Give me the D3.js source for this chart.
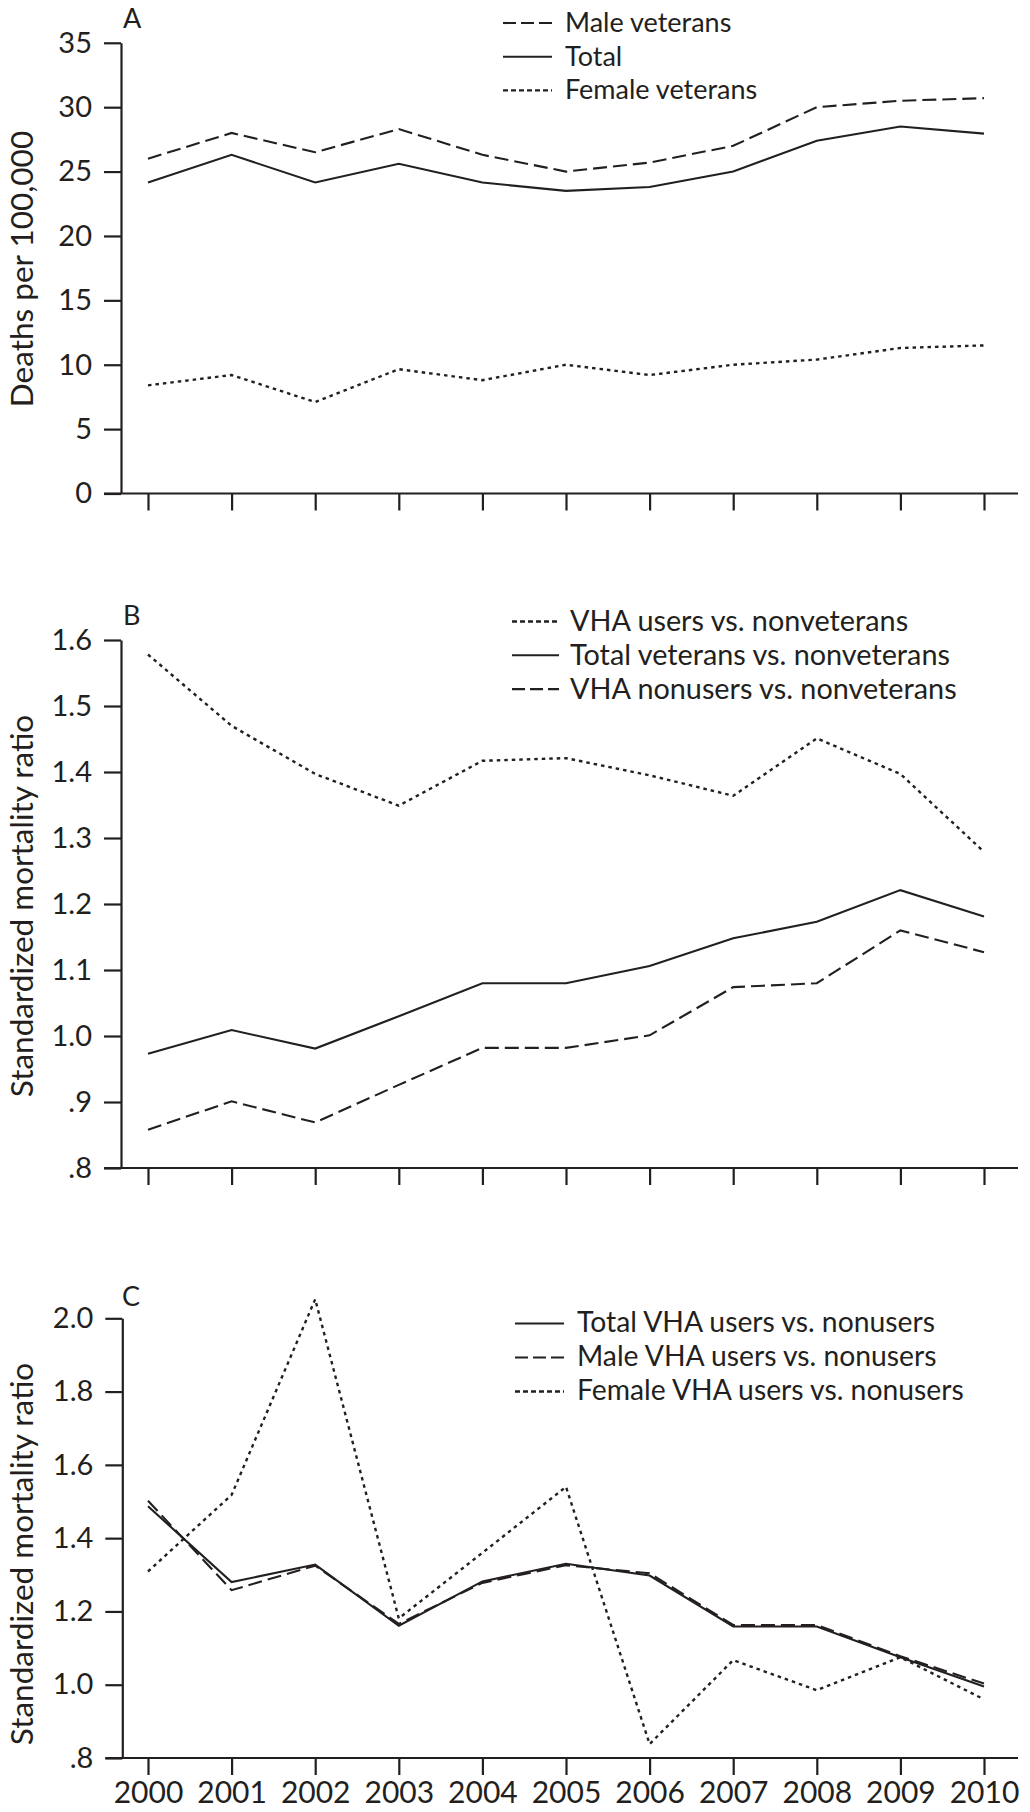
<!DOCTYPE html>
<html>
<head>
<meta charset="utf-8">
<script src="https://cdn.jsdelivr.net/npm/d3@7"></script>
<style>
  html, body { margin: 0; padding: 0; background: #fff; }
  svg { display: block; }
  text { font-family: Lato, "Open Sans", sans-serif; fill: #231f20; }
</style>
</head>
<body>
<svg id="chart" width="1030" height="1812"></svg>
<script>
// ---------- data ----------
const years = [2000, 2001, 2002, 2003, 2004, 2005, 2006, 2007, 2008, 2009, 2010];

// Panel A: deaths per 100,000
const maleVeterans   = [26.0, 28.0, 26.5, 28.3, 26.3, 25.0, 25.7, 27.0, 30.0, 30.5, 30.7];
const totalVeterans  = [24.15, 26.3, 24.15, 25.6, 24.15, 23.5, 23.8, 25.0, 27.4, 28.5, 27.95];
const femaleVeterans = [8.4, 9.2, 7.1, 9.65, 8.8, 10.0, 9.2, 10.0, 10.4, 11.3, 11.5];
const aTicks = [0, 5, 10, 15, 20, 25, 30, 35];
const aTickLabels = ["0", "5", "10", "15", "20", "25", "30", "35"];

// Panel B: standardized mortality ratio vs nonveterans
const vhaUsersVsNonvet    = [1.578, 1.470, 1.397, 1.349, 1.417, 1.421, 1.395, 1.364, 1.451, 1.397, 1.279];
const totalVetVsNonvet    = [0.973, 1.009, 0.981, 1.030, 1.080, 1.080, 1.106, 1.148, 1.173, 1.221, 1.181];
const vhaNonusersVsNonvet = [0.858, 0.901, 0.869, 0.926, 0.982, 0.982, 1.001, 1.074, 1.080, 1.160, 1.127];
const bTicks = [0.8, 0.9, 1.0, 1.1, 1.2, 1.3, 1.4, 1.5, 1.6];
const bTickLabels = [".8", ".9", "1.0", "1.1", "1.2", "1.3", "1.4", "1.5", "1.6"];

// Panel C: standardized mortality ratio, VHA users vs nonusers
const totalUsersVsNonusers  = [1.487, 1.280, 1.328, 1.161, 1.282, 1.330, 1.298, 1.159, 1.159, 1.075, 0.995];
const maleUsersVsNonusers   = [1.502, 1.258, 1.325, 1.166, 1.278, 1.326, 1.304, 1.163, 1.163, 1.078, 1.003];
const femaleUsersVsNonusers = [1.309, 1.518, 2.052, 1.181, 1.360, 1.540, 0.838, 1.067, 0.985, 1.075, 0.960];
const cTicks = [0.8, 1.0, 1.2, 1.4, 1.6, 1.8, 2.0];
const cTickLabels = [".8", "1.0", "1.2", "1.4", "1.6", "1.8", "2.0"];
const yearLabels = ["2000","2001","2002","2003","2004","2005","2006","2007","2008","2009","2010"];

// ---------- styles ----------
const INK = "#231f20";
const STYLES = {
  solid:  { dash: null,    width: 2.1 },
  dashed: { dash: "14,6",  width: 2.1 },
  dotted: { dash: "3.5,4", width: 2.4 }
};

const svg = d3.select("#chart");

function drawPanel(cfg) {
  const g = svg.append("g");
  const x = d3.scaleLinear().domain([2000, 2010]).range([148, 984]);
  const y = d3.scaleLinear().domain(cfg.yDomain).range(cfg.yRange);
  const axisX = cfg.axisX;
  const tickLen = 17;

  // y axis
  const yAxis = d3.axisLeft(y)
    .tickValues(cfg.ticks)
    .tickFormat((d, i) => cfg.tickLabels[i])
    .tickSize(tickLen)
    .tickPadding(12)
    .tickSizeOuter(0);
  const ya = g.append("g").attr("transform", `translate(${axisX},0)`).call(yAxis);
  ya.select(".domain").attr("stroke", INK).attr("stroke-width", 2.2);
  ya.selectAll(".tick line").attr("stroke", INK).attr("stroke-width", 2.2);
  ya.selectAll(".tick text")
    .style("font-family", "Lato, sans-serif")
    .style("font-size", "29px")
    .attr("fill", INK);

  // x axis
  const x0 = y(cfg.yDomain[0]);
  const xAxis = d3.axisBottom(x)
    .tickValues(years)
    .tickFormat((d, i) => cfg.showYears ? yearLabels[i] : "")
    .tickSize(tickLen)
    .tickPadding(7)
    .tickSizeOuter(0);
  const xa = g.append("g").attr("transform", `translate(0,${x0})`).call(xAxis);
  xa.select(".domain").remove();
  xa.selectAll(".tick line").attr("stroke", INK).attr("stroke-width", 2.2);
  xa.selectAll(".tick text")
    .style("font-family", "Lato, sans-serif")
    .style("font-size", "30px")
    .attr("fill", INK);
  g.append("line")
    .attr("x1", axisX - tickLen).attr("x2", 1018)
    .attr("y1", x0).attr("y2", x0)
    .attr("stroke", INK).attr("stroke-width", 2.2);

  // y label
  g.append("text")
    .attr("transform", `translate(${cfg.yLabelX},${cfg.yLabelY}) rotate(-90)`)
    .attr("text-anchor", "middle")
    .style("font-size", "31.5px")
    .text(cfg.yLabel);

  // panel letter
  g.append("text")
    .attr("x", cfg.letterX).attr("y", cfg.letterY)
    .style("font-size", "27px")
    .text(cfg.letter);

  // series
  const line = d3.line().x((d, i) => x(years[i])).y(d => y(d));
  cfg.series.forEach(s => {
    const st = STYLES[s.style];
    g.append("path")
      .datum(s.values)
      .attr("d", line)
      .attr("fill", "none")
      .attr("stroke", INK)
      .attr("stroke-width", st.width)
      .attr("stroke-linejoin", "miter")
      .attr("stroke-dasharray", st.dash);
  });

  // legend
  const L = cfg.legend;
  cfg.legendOrder.forEach((k, i) => {
    const s = cfg.series[k];
    const st = STYLES[s.style];
    const by = L.baseline0 + i * L.step;
    g.append("line")
      .attr("x1", L.lineX0).attr("x2", L.lineX1)
      .attr("y1", by - L.lineOffset).attr("y2", by - L.lineOffset)
      .attr("stroke", INK)
      .attr("stroke-width", st.width)
      .attr("stroke-dasharray", s.style === "dashed" ? "13,5" : (s.style === "dotted" ? "5,3" : null));
    g.append("text")
      .attr("x", L.textX).attr("y", by)
      .style("font-size", L.fontSize + "px")
      .text(s.name);
  });
}

drawPanel({
  letter: "A", letterX: 123, letterY: 28,
  yDomain: [0, 35], yRange: [493.5, 42.8], axisX: 121,
  ticks: aTicks, tickLabels: aTickLabels,
  showYears: false,
  yLabel: "Deaths per 100,000", yLabelX: 32.5, yLabelY: 269,
  series: [
    { name: "Male veterans", values: maleVeterans, style: "dashed" },
    { name: "Total", values: totalVeterans, style: "solid" },
    { name: "Female veterans", values: femaleVeterans, style: "dotted" }
  ],
  legendOrder: [0, 1, 2],
  legend: { lineX0: 503, lineX1: 552, textX: 565, baseline0: 32, step: 33.7, lineOffset: 9, fontSize: 27 }
});

drawPanel({
  letter: "B", letterX: 123, letterY: 625,
  yDomain: [0.8, 1.6], yRange: [1168, 640], axisX: 121,
  ticks: bTicks, tickLabels: bTickLabels,
  showYears: false,
  yLabel: "Standardized mortality ratio", yLabelX: 32.5, yLabelY: 906,
  series: [
    { name: "VHA users vs. nonveterans", values: vhaUsersVsNonvet, style: "dotted" },
    { name: "Total veterans vs. nonveterans", values: totalVetVsNonvet, style: "solid" },
    { name: "VHA nonusers vs. nonveterans", values: vhaNonusersVsNonvet, style: "dashed" }
  ],
  legendOrder: [0, 1, 2],
  legend: { lineX0: 512, lineX1: 559, textX: 570, baseline0: 631, step: 33.8, lineOffset: 9.5, fontSize: 28.8 }
});

drawPanel({
  letter: "C", letterX: 122, letterY: 1306,
  yDomain: [0.8, 2.0], yRange: [1758, 1318.3], axisX: 122.3,
  ticks: cTicks, tickLabels: cTickLabels,
  showYears: true,
  yLabel: "Standardized mortality ratio", yLabelX: 32.5, yLabelY: 1554,
  series: [
    { name: "Total VHA users vs. nonusers", values: totalUsersVsNonusers, style: "solid" },
    { name: "Male VHA users vs. nonusers", values: maleUsersVsNonusers, style: "dashed" },
    { name: "Female VHA users vs. nonusers", values: femaleUsersVsNonusers, style: "dotted" }
  ],
  legendOrder: [0, 1, 2],
  legend: { lineX0: 515, lineX1: 564, textX: 577, baseline0: 1332, step: 34, lineOffset: 8.5, fontSize: 28.3 }
});
</script>
</body>
</html>
